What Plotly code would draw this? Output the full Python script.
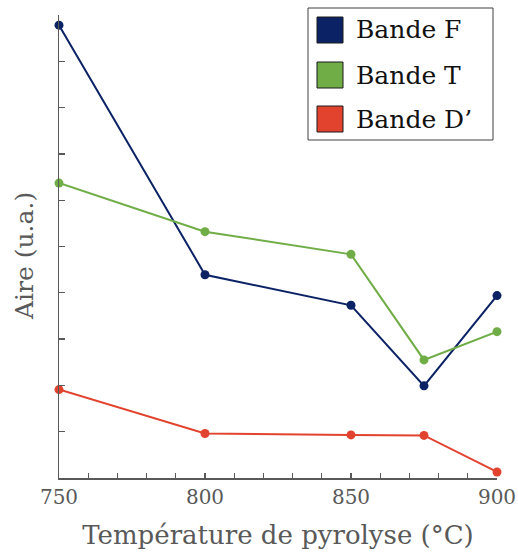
import plotly.graph_objects as go

temperatures = [750, 800, 850, 875, 900]
bande_f = [9.78, 4.39, 3.73, 1.99, 3.94]
bande_t = [6.37, 5.32, 4.83, 2.55, 3.16]
bande_d = [1.91, 0.96, 0.93, 0.92, 0.13]

series_names = ["Bande F", "Bande T", "Bande D\u2019"]
series_colors = ["#0B2265", "#70AD47", "#E2432F"]
series_values = [bande_f, bande_t, bande_d]

x_tickvals = list(range(750, 901, 10))
x_ticktext = [str(v) if v % 50 == 0 else "" for v in x_tickvals]
y_tickvals = list(range(0, 11))

FONT = "DejaVu Serif"
GRAY = "#595959"

W, H = 518, 555
PL, PR, PT, PB = 59, 497, 15, 478  # plot area in window pixels
PW, PH = PR - PL, PB - PT


def px(x):
    return (x - PL) / PW


def py(y):
    return 1 - (y - PT) / PH


fig = go.Figure()
for name, color, vals in zip(series_names, series_colors, series_values):
    fig.add_trace(go.Scatter(
        x=temperatures, y=vals, name=name, mode="lines+markers",
        line=dict(color=color, width=2),
        marker=dict(color=color, size=9),
        cliponaxis=False, showlegend=False,
    ))

# manual legend with large square swatches
lx0, lx1, ly0, ly1 = 308, 493, 8, 140
shapes = [dict(type="rect", xref="paper", yref="paper",
               x0=px(lx0), x1=px(lx1), y0=py(ly1), y1=py(ly0),
               line=dict(color="#404040", width=1), fillcolor="white", layer="above")]
annotations = []
centers = [30, 75, 119]
for name, color, cy in zip(series_names, series_colors, centers):
    shapes.append(dict(type="rect", xref="paper", yref="paper",
                       x0=px(317), x1=px(343), y0=py(cy + 13), y1=py(cy - 13),
                       line=dict(color="#1a1a1a", width=1), fillcolor=color, layer="above"))
    annotations.append(dict(xref="paper", yref="paper", x=px(354), y=py(cy),
                            xanchor="left", yanchor="middle", text=name, showarrow=False,
                            font=dict(family=FONT, size=25, color="#111111")))

# y-axis title
annotations.append(dict(xref="paper", yref="paper", x=px(25), y=py(256),
                        xanchor="center", yanchor="middle", text="Aire (u.a.)",
                        textangle=-90, showarrow=False,
                        font=dict(family=FONT, size=25, color=GRAY)))

fig.update_layout(
    width=W, height=H,
    margin=dict(l=PL, r=W - PR, t=PT, b=H - PB, pad=0),
    paper_bgcolor="white", plot_bgcolor="white",
    font=dict(family=FONT, color=GRAY),
    shapes=shapes, annotations=annotations,
    hovermode=False,
    xaxis=dict(range=[750, 900], tickvals=x_tickvals, ticktext=x_ticktext,
               ticks="inside", ticklen=5, tickwidth=1.3, tickcolor=GRAY,
               showline=True, linecolor=GRAY, linewidth=1.5, showgrid=False, zeroline=False,
               tickfont=dict(family=FONT, size=20, color=GRAY), automargin=False,
               ticklabeloverflow="allow",
               title=dict(text="Température de pyrolyse (°C)", standoff=18,
                          font=dict(family=FONT, size=26, color=GRAY))),
    yaxis=dict(range=[0, 10], tickvals=y_tickvals, showticklabels=False,
               ticks="inside", ticklen=6, tickwidth=1.3, tickcolor=GRAY,
               showline=True, linecolor=GRAY, linewidth=1.5, showgrid=False, zeroline=False,
               automargin=False),
)

fig.write_html("out.html", config={"displayModeBar": False, "staticPlot": True},
               post_script="document.body.style.margin='0';document.body.style.overflow='hidden';")
